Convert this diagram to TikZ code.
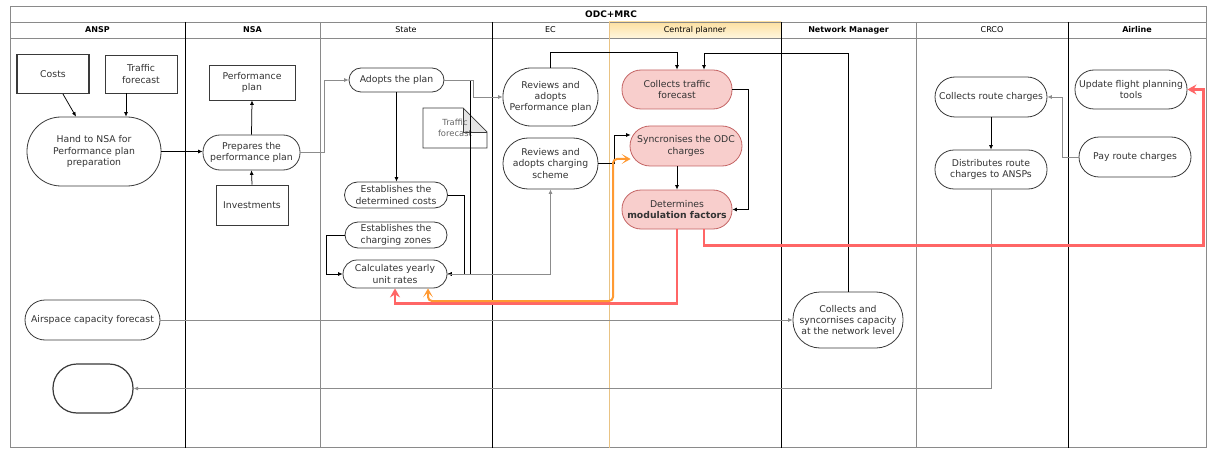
\documentclass[tikz,border=0pt]{standalone}
\usepackage{fontspec}
\setmainfont{DejaVu Sans}
\usetikzlibrary{arrows.meta,calc}
\definecolor{nodeborder}{HTML}{3A3A3A}
\definecolor{txt}{HTML}{333333}
\definecolor{pinkfill}{HTML}{F8CECC}
\definecolor{pinkborder}{HTML}{C46464}
\definecolor{redline}{HTML}{FF6666}
\definecolor{orangeline}{HTML}{FF9A33}
\definecolor{cptan}{HTML}{E9C384}
\definecolor{lanegray}{HTML}{8A8A8A}
\definecolor{connGray}{HTML}{8C8C8C}
\newcommand{\nodefont}{\fontsize{9.3}{11.4}\selectfont}
\newcommand{\lanefont}{\fontsize{8}{9}\selectfont}
\tikzset{
  nbase/.style={draw=nodeborder, fill=white, text=txt, align=center, inner sep=1pt, font=\nodefont, line width=0.8pt},
  rbox/.style={nbase, rectangle},
  nproc/.style={nbase, rounded corners=#1},
  nproc/.default=12pt,
  pinkproc/.style={nproc=#1, fill=pinkfill, draw=pinkborder},
  pinkproc/.default=19pt,
  conn/.style={draw=black, line width=0.75pt, -{Latex[length=4.5pt,width=4pt]}},
  gconn/.style={conn, draw=connGray},
  redc/.style={draw=redline, line width=2.4pt, -{Stealth[length=9pt,width=10pt,inset=3pt]}},
  orangec/.style={draw=orangeline, line width=2pt, {Stealth[length=9pt,width=10pt,inset=5pt]}-{Stealth[length=9pt,width=10pt,inset=5pt]}, rounded corners=4pt},
  lanetitle/.style={font=\lanefont, text=black, inner sep=0pt},
  laneline/.style={draw=black, line width=0.7pt},
  lanelight/.style={draw=lanegray, line width=0.7pt}
}
\begin{document}
\begin{tikzpicture}[x=1pt,y=-1pt]
\fill[white] (0,0) rectangle (1214,449);
\useasboundingbox (0,0) rectangle (1214,449);
% header
\shade[top color={rgb,255:red,252;green,224;blue,160}, bottom color={rgb,255:red,255;green,246;blue,222}] (609,22) rectangle (781,38);
\draw[lanelight] (10,6) rectangle (1206,447.5);
\draw[lanelight] (10,22) -- (1206,22);
\draw[lanelight] (10,38) -- (1206,38);
\draw[laneline] (185,22) -- (185,447.5);
\draw[lanelight] (320,22) -- (320,447.5);
\draw[laneline] (492,22) -- (492,447.5);
\draw[draw=cptan, line width=0.8pt] (609,22) -- (609,447.5);
\draw[laneline] (781,22) -- (781,447.5);
\draw[lanelight] (916,22) -- (916,447.5);
\draw[laneline] (1068,22) -- (1068,447.5);
\node[font=\fontsize{9}{10}\selectfont\bfseries, inner sep=0pt] (title) at (611,14) {ODC+MRC};
\node[lanetitle, font=\lanefont\bfseries] (lansp) at (97.5,30) {ANSP};
\node[lanetitle, font=\lanefont\bfseries] (lnsa) at (252.5,30) {NSA};
\node[lanetitle] (lstate) at (406,30) {State};
\node[lanetitle] (lec) at (550.5,30) {EC};
\node[lanetitle] (lcp) at (695,30) {Central planner};
\node[lanetitle, font=\lanefont\bfseries] (lnm) at (848.5,30) {Network Manager};
\node[lanetitle] (lcrco) at (992,30) {CRCO};
\node[lanetitle, font=\lanefont\bfseries] (lair) at (1137,30) {Airline};

% document shape
\coordinate (dnw) at (423,108);
\coordinate (dfold) at (463,108);
\coordinate (dfoldin) at (463,132);
\coordinate (dfoldr) at (487,132);
\coordinate (dse) at (487,148);
\coordinate (dsw) at (423,148);
\fill[white] (dnw) -- (dfold) -- (dfoldr) -- (dse) -- (dsw) -- cycle;
\fill[gray!20] (dfold) -- (dfoldin) -- (dfoldr) -- cycle;
\draw[draw=nodeborder, line width=0.7pt] (dnw) -- (dfold) -- (dfoldr) -- (dse) -- (dsw) -- cycle;
\draw[draw=nodeborder, line width=0.5pt] (dfold) -- (dfoldin) -- (dfoldr);
\node[inner sep=0pt, text=gray!80!black, align=center, font=\fontsize{8.4}{10.5}\selectfont] (tfdoc) at (455,128) {Traffic\\forecast};

% nodes
\node[rbox, minimum width=72pt, minimum height=39pt, line width=1.2pt] (costs) at (53,74) {Costs};
\node[rbox, minimum width=72pt, minimum height=38pt] (tfA) at (141,74) {Traffic\\forecast};
\node[nproc=34pt, minimum width=134pt, minimum height=69pt] (hand) at (94,151.5) {Hand to NSA for\\Performance plan\\preparation};
\node[rbox, minimum width=86pt, minimum height=35pt] (perf) at (252,82.5) {Performance\\plan};
\node[nproc=17pt, minimum width=97pt, minimum height=35pt] (prep) at (251.5,152.5) {Prepares the\\performance plan};
\node[rbox, minimum width=72pt, minimum height=40pt] (inv) at (252,205) {Investments};
\node[nproc=12pt, minimum width=95pt, minimum height=24pt] (adopts) at (396.5,80) {Adopts the plan};
\node[nproc=13pt, minimum width=103pt, minimum height=26pt] (detc) at (396,195) {Establishes the\\determined costs};
\node[nproc=13pt, minimum width=102pt, minimum height=26pt] (zones) at (396,235) {Establishes the\\charging zones};
\node[nproc=14pt, minimum width=104pt, minimum height=28pt] (calc) at (395,274) {Calculates yearly\\unit rates};
\node[nproc=28pt, minimum width=95pt, minimum height=58pt] (revPP) at (550.5,97) {Reviews and\\adopts\\Performance plan};
\node[nproc=25pt, minimum width=95pt, minimum height=51pt] (revCS) at (550.5,163.5) {Reviews and\\adopts charging\\scheme};
\node[pinkproc=19pt, minimum width=110pt, minimum height=39pt] (collTF) at (677,89.5) {Collects traffic\\forecast};
\node[pinkproc=20pt, minimum width=112pt, minimum height=40pt] (sync) at (686,146) {Syncronises the ODC\\charges};
\node[pinkproc=19pt, minimum width=110pt, minimum height=39pt] (detm) at (677,209.5) {Determines\\\textbf{modulation factors}};
\node[nproc=27pt, minimum width=110pt, minimum height=56pt] (collNet) at (848,320) {Collects and\\syncornises capacity\\at the network level};
\node[nproc=20pt, minimum width=135pt, minimum height=40pt] (airspace) at (92.5,320) {Airspace capacity forecast};
\node[nproc=24pt, minimum width=80pt, minimum height=49pt, line width=1.2pt] (endT) at (93,388.5) {};
\node[nproc=20pt, minimum width=112pt, minimum height=40pt] (collRC) at (991,97) {Collects route charges};
\node[nproc=19pt, minimum width=112pt, minimum height=39pt] (dist) at (991,169.5) {Distributes route\\charges to ANSPs};
\node[nproc=19pt, minimum width=112pt, minimum height=39pt] (update) at (1131,89.5) {Update flight planning\\tools};
\node[nproc=20pt, minimum width=112pt, minimum height=40pt] (pay) at (1135,157) {Pay route charges};

% connectors
\coordinate (tfaout) at ($(tfA.south)+(-15,0)$);
\draw[conn] ($(costs.south)+(10,0)$) -- ($(hand.north)+(-18,0)$);
\draw[conn] (tfaout) -- (tfaout |- hand.north);
\draw[conn] (hand.east) -- (hand.east -| prep.west);
\draw[conn] (prep.north) -- (perf.south);
\draw[conn] (inv.north) -- (prep.south);
\draw[gconn] (prep.east) -- ++(24,0) |- (adopts.west);
\draw[conn] (adopts.south) -- (adopts.south |- detc.north);
\draw[conn] (adopts.east) -- ++(26,0) |- (calc.east);
\draw[gconn] (adopts.east) -- ++(28.5,0) |- (revPP.west);
\draw[conn] (detc.east) -- ++(16,0) |- (calc.east);
\draw[conn] (zones.west) -- ++(-18,0) |- (calc.west);
\draw[gconn] (calc.east) -| (revCS.south);
\draw[conn] (revPP.north) -- ++(0,-15) -| (collTF.north);
\draw[conn] (collNet.north) |- ($(collTF.north)+(27,-16)$) -- ($(collTF.north)+(27,0)$);
\draw[conn] (revCS.east) -- ++(16,0) |- ($(sync.west)+(1,-11)$);
\draw[conn] ($(sync.south)+(-9,0)$) -- (detm.north);
\draw[conn] (collTF.east) -- ++(16,0) |- (detm.east);
\draw[gconn] (airspace.east) -- (airspace.east -| collNet.west);
\draw[gconn] (dist.south) |- (endT.east);
\draw[conn] (collRC.south) -- (dist.north);
\draw[gconn] (pay.west) -- ++(-16,0) |- (collRC.east);
\coordinate (ocorner) at (613,301);
\draw[redc] (detm.south) |- ($(calc.south)+(0,15)$) -- (calc.south);
\draw[redc] ($(detm.south)+(27,0)$) -- ++(0,16) -| ($(update.east)+(16,0)$) -- (update.east);
\draw[orangec] ($(sync.west)+(1,13)$) -| (ocorner) -| ($(calc.south)+(33,0)$);
\end{tikzpicture}
\end{document}
